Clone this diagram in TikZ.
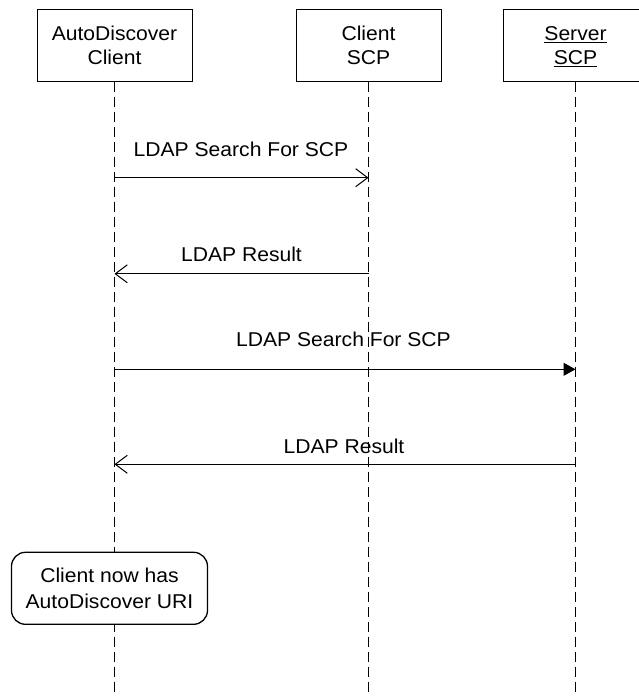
\documentclass[tikz,border=0pt]{standalone}
\usepackage{fontspec}
\setmainfont{Liberation Sans}[FakeStretch=1.055]
\usetikzlibrary{arrows.meta}
\newcommand\myul[1]{\leavevmode\vtop{\hbox{#1}\kern1.6pt\hrule height 1pt}}
\begin{document}
\begin{tikzpicture}[x=1pt,y=-1pt,
  every node/.style={inner sep=0pt,outer sep=0pt},
  actor/.style={draw,line width=1pt,fill=white,minimum height=72.4pt,align=center,
    font=\fontsize{20}{23.6}\selectfont},
  life/.style={line width=1pt,dash pattern=on 10pt off 5pt},
  msg/.style={line width=1pt},
  openhead/.style={-{Straight Barb[length=12pt,width=18pt]}},
  fullhead/.style={-{Triangle[length=12pt,width=13pt]}},
  lbl/.style={anchor=base,font=\fontsize{20}{24}\selectfont},
  notebox/.style={draw,line width=1.3pt,fill=white,rounded corners=14pt,align=center,
    minimum width=196pt,minimum height=72pt,font=\fontsize{20}{26.6}\selectfont}]
\useasboundingbox (0,0) rectangle (639,696);
\clip (0,0) rectangle (639,696);
\fill[white] (0,0) rectangle (639,696);
% actors
\node[actor,minimum width=155pt] (a) at (114.5,45.5) {AutoDiscover\\Client};
\node[actor,minimum width=145pt] (b) at (368.5,45.5) {Client\\SCP};
\node[actor,minimum width=145pt] (c) at (575.5,45.5) {\myul{Server}\\\raisebox{0pt}[\height][0pt]{\myul{SCP}}};
% lifeline ends
\coordinate (aend) at (114.5,700);
\coordinate (bend) at (368.5,700);
\coordinate (cend) at (575.5,700);
\draw[life] (a.south) -- (aend);
\draw[life] (b.south) -- (bend);
\draw[life] (c.south) -- (cend);
% message points
\coordinate (m1a) at (114.5,177.7);
\coordinate (m1b) at (368.5,177.7);
\coordinate (m2b) at (368.5,273.8);
\coordinate (m2a) at (114.5,273.8);
\coordinate (m3a) at (114.5,369.3);
\coordinate (m3c) at (575.5,369.3);
\coordinate (m4c) at (575.5,464.3);
\coordinate (m4a) at (114.5,464.3);
\draw[msg,openhead] (m1a) -- (m1b);
\draw[msg,openhead] (m2b) -- (m2a);
\draw[msg,fullhead] (m3a) -- (m3c);
\draw[msg,openhead] (m4c) -- (m4a);
\node[lbl] (l1) at (241,156.7) {LDAP Search For SCP};
\node[lbl] (l2) at (241.5,261.7) {LDAP Result};
\node[lbl] (l3) at (343.5,346.7) {LDAP Search For SCP};
\node[lbl] (l4) at (344,453.3) {LDAP Result};
% note
\node[notebox] (n) at (109.5,588.3) {Client now has\\AutoDiscover URI};
\end{tikzpicture}
\end{document}
